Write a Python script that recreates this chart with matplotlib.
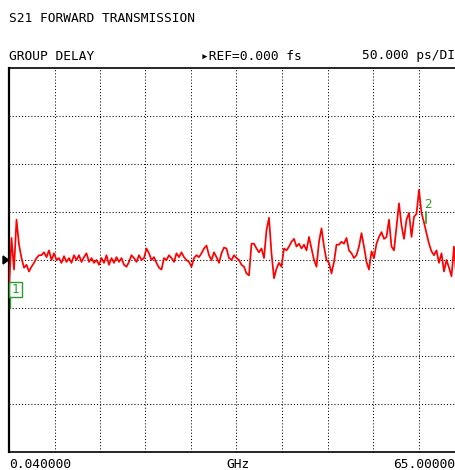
import numpy as np
import matplotlib
matplotlib.use("Agg")
import matplotlib.pyplot as plt
from matplotlib.patches import Rectangle, Polygon

# ---- data ----
f_start_ghz = 0.04
f_stop_ghz = 65.0
ref_fs = 0.0
scale_ps_per_div = 50.0
n_divs_x = 10
n_divs_y = 8

delay_ps = [
    -31, 23, -10, 42, 16, 2, -8, -5, -12, -7,
    -3, 2, 5, 5, 8, 3, 10, 0, 7, 0,
    2, -3, 4, -2, 2, -3, 5, 0, 5, -2,
    3, 7, -2, 2, -3, 0, -5, 2, -3, 5,
    -5, 2, -3, 3, -2, 2, -5, -7, -2, 5,
    2, -2, 5, 0, 2, 12, 7, 0, 3, -3,
    -8, -10, 2, 0, 5, 2, -2, 7, 3, 8,
    3, 0, -2, -7, 2, 5, 3, 7, 12, 15,
    5, 0, 8, 3, -3, 7, 13, 12, 2, 0,
    5, 2, 0, -5, -7, -14, -16, 17, 17, 12,
    8, 12, 2, 31, 44, 7, -19, -9, -3, -7,
    12, 10, 14, 19, 22, 14, 17, 12, 16, 10,
    24, 12, 0, -7, 19, 33, 14, 0, -3, -14,
    -2, 16, 16, 19, 17, 23, 10, 7, 2, 5,
    14, 28, 14, -2, -10, 9, 2, 17, 24, 29,
    22, 24, 42, 14, 10, 35, 59, 36, 22, 42,
    49, 24, 45, 48, 73, 49, 39, 28, 17, 9,
    5, 10, -3, 7, -12, 0, -8, -17, 14, -21,
    -10, -5, -12,
]
freq_ghz = np.linspace(f_start_ghz, f_stop_ghz, len(delay_ps))

marker1_ghz = 0.04
marker2_ghz = 59.6

title_text = "S21 FORWARD TRANSMISSION"
mode_text = "GROUP DELAY"
ref_text = "\u25b8REF=0.000 fs"
scale_text = "50.000 ps/DI"
start_text = "0.040000"
unit_text = "GHz"
stop_text = "65.00000"

# ---- figure ----
W, H = 456, 470
fig = plt.figure(figsize=(W / 100, H / 100), dpi=100)
fig.patch.set_facecolor("white")

left_px, right_px, top_px, bot_px = 9, 464, 68, 452
ax = fig.add_axes([left_px / W, 1 - bot_px / H, (right_px - left_px) / W, (bot_px - top_px) / H])
ax.set_xlim(f_start_ghz, f_stop_ghz)
half = scale_ps_per_div * n_divs_y / 2
ax.set_ylim(ref_fs / 1000 - half, ref_fs / 1000 + half)
ax.set_xticks([])
ax.set_yticks([])

xg = np.linspace(f_start_ghz, f_stop_ghz, n_divs_x + 1)[1:-1]
yg = np.linspace(-half, half, n_divs_y + 1)[1:-1]
for x in xg:
    ax.axvline(x, color="black", lw=0.75, ls=(0, (1, 2)), zorder=1)
for y in yg:
    ax.axhline(y, color="black", lw=0.75, ls=(0, (1, 2)), zorder=1)

ax.spines["right"].set_visible(False)
ax.spines["left"].set_linewidth(1.6)
ax.spines["top"].set_linewidth(1.2)
ax.spines["bottom"].set_linewidth(1.2)

ax.plot(freq_ghz, delay_ps, color="#ff0000", lw=1.25, zorder=3)

green = "#2e9a2e"
# marker 1 box
m1_w = 1.8
ax.add_patch(Rectangle((marker1_ghz, -38.5), m1_w, 15.5, fill=False, ec=green, lw=1.0, zorder=4, clip_on=False))
ax.text(marker1_ghz + m1_w / 2, -30.8, "1", color=green, ha="center", va="center",
        fontsize=9, family="DejaVu Sans Mono", zorder=5)
ax.plot([marker1_ghz + 0.1, marker1_ghz + 0.1], [-38.5, -50], color=green, lw=1.0, zorder=4, clip_on=False)
# marker 2
ax.text(marker2_ghz + 0.3, 58, "2", color=green, ha="center", va="center",
        fontsize=9, family="DejaVu Sans Mono", zorder=5)
ax.plot([marker2_ghz, marker2_ghz], [38.5, 50], color=green, lw=1.2, zorder=5)

# reference arrow
fig.add_artist(Polygon([[3 / W, 1 - 256 / H], [8.5 / W, 1 - 260 / H], [3 / W, 1 - 264 / H]],
                       closed=True, color="black", transform=fig.transFigure))

mono = ["DejaVu Sans Mono", "DejaVu Sans"]
fs = 9.3
fig.text(9 / W, 1 - 18 / H, title_text, fontsize=fs, family=mono, va="center", ha="left")
fig.text(9 / W, 1 - 56 / H, mode_text, fontsize=fs, family=mono, va="center", ha="left")
fig.text(201 / W, 1 - 56 / H, ref_text, fontsize=fs, family=mono, va="center", ha="left")
fig.text(455 / W, 1 - 56 / H, scale_text, fontsize=fs, family=mono, va="center", ha="right")
fig.text(9 / W, 1 - 464 / H, start_text, fontsize=fs, family=mono, va="center", ha="left")
fig.text(226 / W, 1 - 464 / H, unit_text, fontsize=fs, family=mono, va="center", ha="left")
fig.text(455 / W, 1 - 464 / H, stop_text, fontsize=fs, family=mono, va="center", ha="right")

fig.savefig("out.png", dpi=100)
